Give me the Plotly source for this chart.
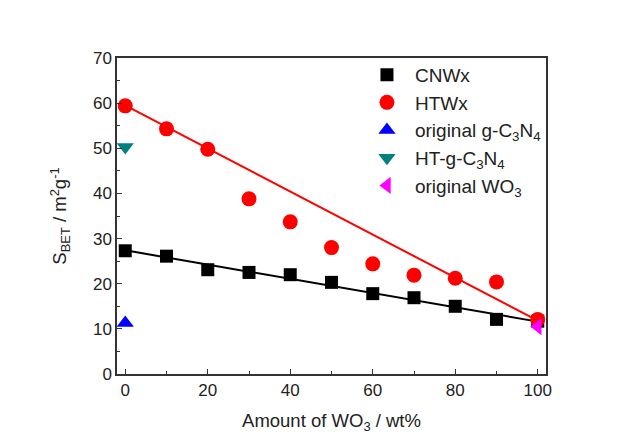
import plotly.graph_objects as go

wo3_wt = [0, 10, 20, 30, 40, 50, 60, 70, 80, 90, 100]
cnwx = [27.3, 26.1, 23.1, 22.5, 22.0, 20.3, 17.8, 16.9, 15.0, 12.1, 11.7]
htwx = [59.4, 54.3, 49.8, 38.8, 33.7, 28.0, 24.4, 21.9, 21.2, 20.4, 12.1]

orig_gcn_x = [0]
orig_gcn_y = [11.3]
ht_gcn_x = [0]
ht_gcn_y = [50.3]
orig_wo3_x = [100]
orig_wo3_y = [10.5]

fit_x = [0, 100]
cnwx_fit = [27.4, 11.6]
htwx_fit = [59.5, 11.8]

FONT = "Liberation Sans, Arial, sans-serif"

fig = go.Figure()
fig.add_trace(go.Scatter(x=fit_x, y=cnwx_fit, mode="lines",
                         line=dict(color="black", width=2), showlegend=False, hoverinfo="skip"))
fig.add_trace(go.Scatter(x=fit_x, y=htwx_fit, mode="lines",
                         line=dict(color="#ff0000", width=2), showlegend=False, hoverinfo="skip"))
fig.add_trace(go.Scatter(x=wo3_wt, y=cnwx, mode="markers", name="CNWx",
                         marker=dict(symbol="square", size=13, color="black")))
fig.add_trace(go.Scatter(x=wo3_wt, y=htwx, mode="markers", name="HTWx",
                         marker=dict(symbol="circle", size=15, color="#ff0000")))
fig.add_trace(go.Scatter(x=orig_gcn_x, y=orig_gcn_y, mode="markers",
                         name="original g-C<sub>3</sub>N<sub>4</sub>",
                         marker=dict(symbol="triangle-up", size=15, color="#0000ff")))
fig.add_trace(go.Scatter(x=ht_gcn_x, y=ht_gcn_y, mode="markers",
                         name="HT-g-C<sub>3</sub>N<sub>4</sub>",
                         marker=dict(symbol="triangle-down", size=15, color="#008080")))
fig.add_trace(go.Scatter(x=orig_wo3_x, y=orig_wo3_y, mode="markers",
                         name="original WO<sub>3</sub>",
                         marker=dict(symbol="triangle-left", size=15, color="#ff00ff")))

axis_common = dict(
    showline=True, linecolor="#333333", linewidth=1.5, mirror=True,
    showgrid=False, zeroline=False,
    ticks="inside", ticklen=5, tickwidth=1.2, tickcolor="#333333",
    tickfont=dict(size=17, color="#222222", family=FONT),
)

fig.update_xaxes(range=[-2, 102], tickvals=[0, 20, 40, 60, 80, 100],
                 minor=dict(ticks="inside", ticklen=3, tickwidth=1.2, tickcolor="#333333", dtick=10, tick0=0),
                 title=dict(text="Amount of WO<sub>3</sub> / wt%", font=dict(size=18.5, color="#222222", family=FONT), standoff=15),
                 **axis_common)
fig.update_yaxes(range=[0, 70], dtick=10,
                 minor=dict(ticks="inside", ticklen=3, tickwidth=1.2, tickcolor="#333333", dtick=5, tick0=0),
                 title=dict(text="S<sub>BET</sub> / m<sup>2</sup>g<sup>-1</sup>", font=dict(size=18.5, color="#222222", family=FONT), standoff=21),
                 **axis_common)

fig.update_layout(
    width=627, height=441,
    margin=dict(l=117, r=81, t=58, b=67),
    paper_bgcolor="white", plot_bgcolor="white",
    font=dict(family=FONT, size=17, color="#222222"),
    legend=dict(x=0.564, y=1.007, xanchor="left", yanchor="top",
                bgcolor="rgba(0,0,0,0)", borderwidth=0,
                font=dict(size=19, family=FONT, color="#222222"),
                itemwidth=46, tracegroupgap=0),
)

fig.write_html("out.html")
